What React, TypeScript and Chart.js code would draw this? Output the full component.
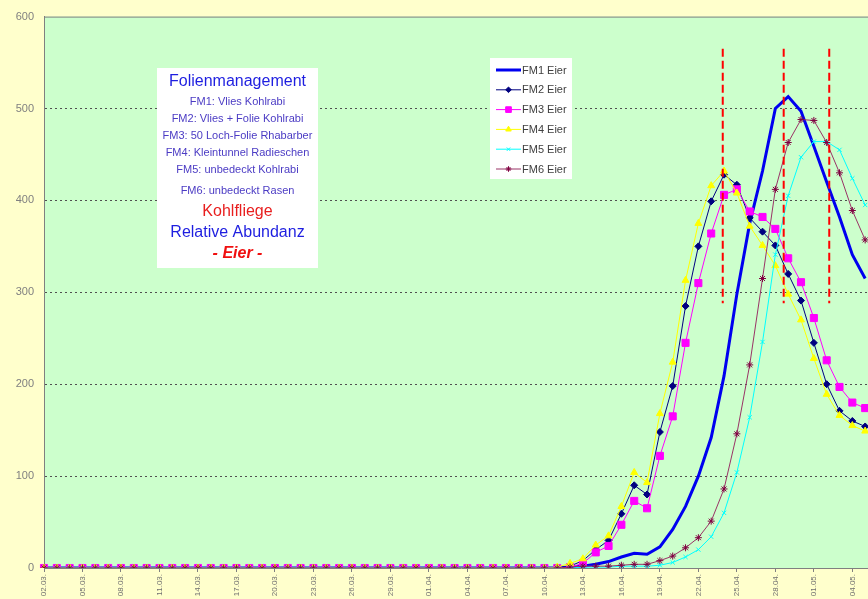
import React, { useEffect, useRef } from 'react';
import { Chart, registerables } from 'chart.js';
import { drawPoint } from 'chart.js/helpers';

Chart.register(...registerables);

// ---- data ----
const dates = [
  '02.03.', '03.03.', '04.03.', '05.03.', '06.03.', '07.03.', '08.03.', '09.03.', '10.03.', '11.03.',
  '12.03.', '13.03.', '14.03.', '15.03.', '16.03.', '17.03.', '18.03.', '19.03.', '20.03.', '21.03.',
  '22.03.', '23.03.', '24.03.', '25.03.', '26.03.', '27.03.', '28.03.', '29.03.', '30.03.', '31.03.',
  '01.04.', '02.04.', '03.04.', '04.04.', '05.04.', '06.04.', '07.04.', '08.04.', '09.04.', '10.04.',
  '11.04.', '12.04.', '13.04.', '14.04.', '15.04.', '16.04.', '17.04.', '18.04.', '19.04.', '20.04.',
  '21.04.', '22.04.', '23.04.', '24.04.', '25.04.', '26.04.', '27.04.', '28.04.', '29.04.', '30.04.',
  '01.05.', '02.05.', '03.05.', '04.05.', '05.05.', '06.05.',
];

const fm1 = [
  0, 0, 0, 0, 0, 0, 0, 0, 0, 0, 0, 0, 0, 0, 0, 0, 0, 0, 0, 0,
  0, 0, 0, 0, 0, 0, 0, 0, 0, 0, 0, 0, 0, 0, 0, 0, 0, 0, 0, 0, 0,
  1, 2, 4, 7, 12, 16, 15, 23, 42, 67, 100, 142, 209, 298, 375, 432,
  500, 513, 497, 459, 420, 382, 341, 315,
];
const fm2 = [
  0, 0, 0, 0, 0, 0, 0, 0, 0, 0, 0, 0, 0, 0, 0, 0, 0, 0, 0, 0,
  0, 0, 0, 0, 0, 0, 0, 0, 0, 0, 0, 0, 0, 0, 0, 0, 0, 0, 0, 0, 0,
  2, 8, 20, 30, 59, 90, 80, 148, 198, 285, 350, 399, 428, 417, 381, 366,
  351, 320, 291, 245, 200, 171, 160, 154,
];
const fm3 = [
  0, 0, 0, 0, 0, 0, 0, 0, 0, 0, 0, 0, 0, 0, 0, 0, 0, 0, 0, 0,
  0, 0, 0, 0, 0, 0, 0, 0, 0, 0, 0, 0, 0, 0, 0, 0, 0, 0, 0, 0, 0,
  1, 5, 17, 24, 47, 73, 65, 122, 165, 245, 310, 364, 406, 412, 388, 382,
  369, 337, 311, 272, 226, 197, 180, 174,
];
const fm4 = [
  0, 0, 0, 0, 0, 0, 0, 0, 0, 0, 0, 0, 0, 0, 0, 0, 0, 0, 0, 0,
  0, 0, 0, 0, 0, 0, 0, 0, 0, 0, 0, 0, 0, 0, 0, 0, 0, 0, 0, 0, 1,
  5, 10, 25, 35, 67, 104, 93, 168, 224, 313, 375, 416, 432, 408, 372, 351,
  329, 298, 270, 228, 189, 166, 155, 149,
];
const fm5 = [
  0, 0, 0, 0, 0, 0, 0, 0, 0, 0, 0, 0, 0, 0, 0, 0, 0, 0, 0, 0,
  0, 0, 0, 0, 0, 0, 0, 0, 0, 0, 0, 0, 0, 0, 0, 0, 0, 0, 0, 0, 0,
  0, 1, 1, 1, 2, 2, 2, 3, 6, 12, 20, 34, 60, 104, 164, 246,
  341, 405, 447, 464, 464, 455, 424, 395,
];
const fm6 = [
  0, 0, 0, 0, 0, 0, 0, 0, 0, 0, 0, 0, 0, 0, 0, 0, 0, 0, 0, 0,
  0, 0, 0, 0, 0, 0, 0, 0, 0, 0, 0, 0, 0, 0, 0, 0, 0, 0, 0, 0, 0,
  1, 2, 2, 2, 3, 4, 4, 8, 13, 22, 33, 51, 86, 146, 221, 315,
  412, 463, 488, 487, 463, 430, 389, 357,
];

const seriesNames = ['FM1 Eier', 'FM2 Eier', 'FM3 Eier', 'FM4 Eier', 'FM5 Eier', 'FM6 Eier'];

// red dashed marker lines (position on the day axis, value range)
const markerDays = [52.9, 57.65, 61.2];
const markerTop = 565;
const markerBottom = 288;

const yMin = 0;
const yMax = 600;
const yStep = 100;

const boxTitle = 'Folienmanagement';
const boxLines = [
  'FM1: Vlies Kohlrabi',
  'FM2: Vlies + Folie Kohlrabi',
  'FM3: 50 Loch-Folie Rhabarber',
  'FM4: Kleintunnel Radieschen',
  'FM5: unbedeckt Kohlrabi',
  'FM6: unbedeckt Rasen',
];
const boxPest = 'Kohlfliege';
const boxMeasure = 'Relative Abundanz';
const boxStage = '- Eier -';

const FONT = '"Liberation Sans", Arial, Helvetica, sans-serif';

export default function App() {
  const ref = useRef<HTMLCanvasElement>(null);

  useEffect(() => {
    if (!ref.current) return;
    Chart.defaults.font.family = FONT;

    const bgPlugin = {
      id: 'bgPlugin',
      beforeDraw(chart: any) {
        const { ctx, chartArea: a, width, height } = chart;
        ctx.save();
        ctx.fillStyle = '#FFFFCC';
        ctx.fillRect(0, 0, width, height);
        ctx.fillStyle = '#CCFFCC';
        ctx.fillRect(a.left, a.top, a.right - a.left, a.bottom - a.top);
        ctx.strokeStyle = '#808080';
        ctx.lineWidth = 1;
        ctx.beginPath();
        ctx.moveTo(a.left, a.top + 0.5);
        ctx.lineTo(a.right, a.top + 0.5);
        ctx.stroke();
        ctx.restore();
      },
      afterDatasetsDraw(chart: any) {
        const { ctx } = chart;
        const xs = chart.scales.x;
        const ys = chart.scales.y;
        ctx.save();
        ctx.strokeStyle = '#FF0000';
        ctx.lineWidth = 2;
        ctx.setLineDash([8, 4]);
        markerDays.forEach((d) => {
          const x = xs.getPixelForValue(d);
          ctx.beginPath();
          ctx.moveTo(x, ys.getPixelForValue(markerTop));
          ctx.lineTo(x, ys.getPixelForValue(markerBottom));
          ctx.stroke();
        });
        ctx.restore();
      },
      afterDraw(chart: any) {
        const { ctx } = chart;
        ctx.save();
        // legend
        ctx.fillStyle = '#FFFFFF';
        ctx.fillRect(490, 58, 82, 121);
        chart.data.datasets.forEach((ds: any, i: number) => {
          const y = 70 + i * 19.8;
          ctx.setLineDash([]);
          ctx.strokeStyle = ds.borderColor;
          ctx.lineWidth = ds.borderWidth;
          ctx.beginPath();
          ctx.moveTo(496, y);
          ctx.lineTo(521, y);
          ctx.stroke();
          if (ds.pointRadius > 0) {
            ctx.fillStyle = ds.pointBackgroundColor;
            ctx.strokeStyle = ds.pointBorderColor;
            ctx.lineWidth = 1;
            drawPoint(ctx, { pointStyle: ds.pointStyle, radius: ds.pointRadius * 0.8, rotation: 0, borderWidth: 1 }, 508.5, y);
          }
          ctx.fillStyle = '#404040';
          ctx.font = '11px ' + FONT;
          ctx.textBaseline = 'middle';
          ctx.textAlign = 'left';
          ctx.fillText(ds.label, 522, y + 0.5);
        });

        // info box
        ctx.fillStyle = '#FFFFFF';
        ctx.fillRect(157, 68, 161, 200);
        const cx = 237.5;
        ctx.textAlign = 'center';
        ctx.textBaseline = 'middle';
        ctx.fillStyle = '#1E1EE0';
        ctx.font = '16px ' + FONT;
        ctx.fillText(boxTitle, cx, 82);
        ctx.fillStyle = '#4B3BC4';
        ctx.font = '11px ' + FONT;
        const lineYs = [101.5, 119, 136, 153, 170, 191];
        boxLines.forEach((t, i) => ctx.fillText(t, cx, lineYs[i]));
        ctx.fillStyle = '#E81E1E';
        ctx.font = '16px ' + FONT;
        ctx.fillText(boxPest, cx, 212);
        ctx.fillStyle = '#1E1EE0';
        ctx.fillText(boxMeasure, cx, 233);
        ctx.fillStyle = '#F01010';
        ctx.font = 'italic bold 16px ' + FONT;
        ctx.fillText(boxStage, cx, 254);
        ctx.restore();
      },
    };

    const chart = new Chart(ref.current, {
      type: 'line',
      data: {
        labels: dates,
        datasets: [
          {
            label: seriesNames[0], data: fm1, borderColor: '#0000F0', backgroundColor: '#0000F0',
            borderWidth: 3, pointRadius: 0, pointHoverRadius: 0, order: 6,
            pointBackgroundColor: '#0000F0', pointBorderColor: '#0000F0',
          },
          {
            label: seriesNames[1], data: fm2, borderColor: '#000080', backgroundColor: '#000080',
            borderWidth: 1, pointStyle: 'rectRot', pointRadius: 3.5, order: 5,
            pointBackgroundColor: '#000080', pointBorderColor: '#000080', pointBorderWidth: 1,
          },
          {
            label: seriesNames[2], data: fm3, borderColor: '#FF00FF', backgroundColor: '#FF00FF',
            borderWidth: 1, pointStyle: 'rect', pointRadius: 5, order: 4,
            pointBackgroundColor: '#FF00FF', pointBorderColor: '#FF00FF', pointBorderWidth: 1,
          },
          {
            label: seriesNames[3], data: fm4, borderColor: '#FFFF00', backgroundColor: '#FFFF00',
            borderWidth: 1, pointStyle: 'triangle', pointRadius: 4, order: 3,
            pointBackgroundColor: '#FFFF00', pointBorderColor: '#FFFF00', pointBorderWidth: 1,
          },
          {
            label: seriesNames[4], data: fm5, borderColor: '#00FFFF', backgroundColor: '#00FFFF',
            borderWidth: 1, pointStyle: 'crossRot', pointRadius: 3, order: 2,
            pointBackgroundColor: '#00FFFF', pointBorderColor: '#00FFFF', pointBorderWidth: 1,
          },
          {
            label: seriesNames[5], data: fm6, borderColor: '#993366', backgroundColor: '#993366',
            borderWidth: 1, pointStyle: 'star', pointRadius: 3.5, order: 1,
            pointBackgroundColor: '#800040', pointBorderColor: '#800040', pointBorderWidth: 1,
          },
        ] as any,
      },
      options: {
        responsive: false,
        animation: false,
        events: [],
        layout: { autoPadding: false, padding: { top: 15, right: 0, left: 0, bottom: 0 } },
        plugins: { legend: { display: false }, tooltip: { enabled: false } },
        elements: { line: { tension: 0 } },
        scales: {
          x: {
            type: 'category',
            offset: false,
            grid: {
              drawOnChartArea: false,
              tickLength: 4,
              tickColor: (c: any) => (c.index % 3 === 0 ? '#808080' : 'rgba(0,0,0,0)'),
            },
            border: { color: '#808080' },
            ticks: {
              autoSkip: false,
              maxRotation: 90,
              minRotation: 90,
              padding: 2,
              color: '#707070',
              font: { size: 8, family: FONT },
              callback: (_v: any, i: number) => (i % 3 === 0 ? dates[i] : ''),
            },
            afterFit: (s: any) => {
              s.height = 31;
              s.paddingLeft = 0;
              s.paddingRight = 0;
            },
          },
          y: {
            min: yMin,
            max: yMax,
            ticks: {
              stepSize: yStep,
              padding: 10,
              color: '#808080',
              font: { size: 11, family: FONT },
            },
            grid: {
              drawTicks: false,
              lineWidth: 1,
              color: (c: any) =>
                c.tick && (c.tick.value === yMin || c.tick.value === yMax) ? 'rgba(0,0,0,0)' : '#505050',
            },
            border: { color: '#808080', dash: [2, 3] },
            afterFit: (s: any) => {
              s.width = 44;
            },
          },
        },
      } as any,
      plugins: [bgPlugin],
    });
    return () => chart.destroy();
  }, []);

  return (
    <div
      style={{
        position: 'fixed',
        left: 0,
        top: 0,
        width: 868,
        height: 599,
        overflow: 'hidden',
        background: '#FFFFCC',
      }}
    >
      <canvas ref={ref} width={878} height={599} style={{ display: 'block' }} />
    </div>
  );
}
